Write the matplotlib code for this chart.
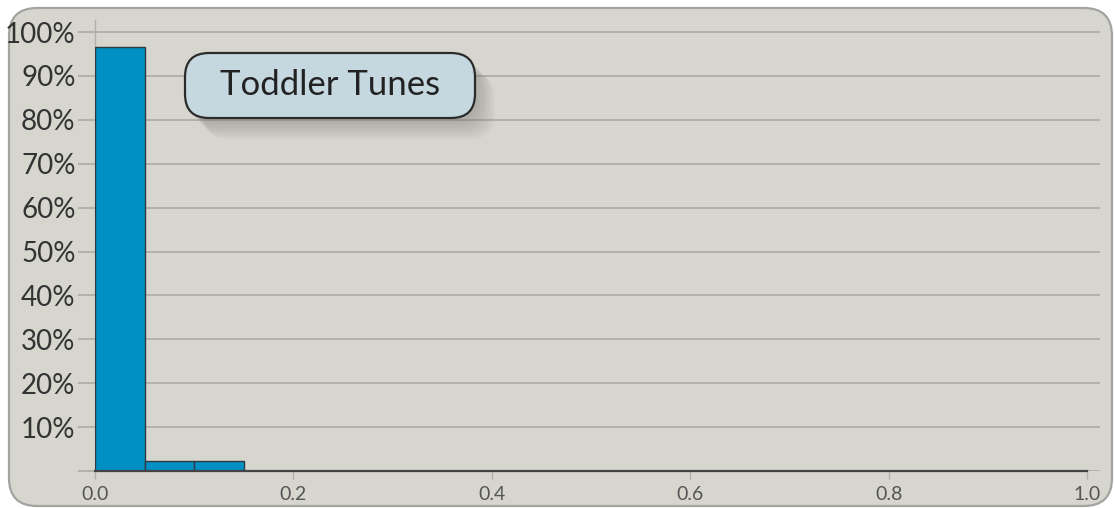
import matplotlib
matplotlib.use("Agg")
import matplotlib.pyplot as plt
from matplotlib.patches import FancyBboxPatch
from matplotlib import patheffects

# histogram: bin edges and share of tracks per bin (%)
bin_edges = [0.0, 0.05, 0.10, 0.15]
bin_share = [96.6, 2.3, 2.3]
y_ticks = [0, 10, 20, 30, 40, 50, 60, 70, 80, 90, 100]
y_labels = ["" if v == 0 else f"{v}%" for v in y_ticks]
x_ticks = [0.0, 0.2, 0.4, 0.6, 0.8, 1.0]
title = "Toddler Tunes"

BG = "#d6d5ce"
GRID = "#abaaa4"
BAR = "#0090c4"

plt.rcParams["font.family"] = ["Lato", "DejaVu Sans"]

fig = plt.figure(figsize=(11.15, 5.08), dpi=100)
fig.patch.set_facecolor("white")

# rounded panel behind everything
panel = FancyBboxPatch((0.09, 0.02), 11.03, 4.98,
                       boxstyle="round,pad=0,rounding_size=0.28",
                       transform=fig.dpi_scale_trans,
                       facecolor=BG, edgecolor="#a3a3a0", linewidth=1.6, zorder=-5)
fig.patches.append(panel)

ax = fig.add_axes([95 / 1115, 1 - 471 / 508, (1100 - 95) / 1115, (471 - 20) / 508])
ax.set_facecolor("none")
ax.set_zorder(1)

widths = [b - a for a, b in zip(bin_edges[:-1], bin_edges[1:])]
ax.bar(bin_edges[:-1], bin_share, width=widths, align="edge",
       color=BAR, edgecolor="#2e3a40", linewidth=1.0, zorder=3)

ax.set_xlim(0, 1.0 + 13 / 992)
ax.set_ylim(0, 451 / 4.39)

ax.set_yticks(y_ticks)
ax.set_yticklabels(y_labels)
ax.set_xticks(x_ticks)
ax.set_xticklabels([f"{v:.1f}" for v in x_ticks])

ax.grid(axis="y", color=GRID, linewidth=1.2, zorder=1)
ax.grid(axis="x", visible=False)

for s in ("top", "right"):
    ax.spines[s].set_visible(False)
ax.spines["left"].set_color("#b0afa9")
ax.spines["left"].set_linewidth(1.0)
ax.spines["bottom"].set_color("#444444")
ax.spines["bottom"].set_linewidth(1.6)
ax.spines["bottom"].set_bounds(0, 1.0)
ax.spines["bottom"].set_zorder(4)

ax.tick_params(axis="y", length=12, width=1.2, color=GRID, pad=2,
               labelsize=20, labelcolor="#333333")
ax.tick_params(axis="x", length=6, width=1.0, color="#b0afa9", pad=5,
               labelsize=14, labelcolor="#555555")

# title badge with a soft drop shadow
shadow = [patheffects.SimplePatchShadow(offset=(2 + 2 * i, -3 - 2 * i),
                                        shadow_rgbFace="#6a6a66", alpha=0.06)
          for i in range(7)]
badge = FancyBboxPatch((1.85, 3.90), 2.90, 0.65,
                       boxstyle="round,pad=0,rounding_size=0.24",
                       transform=fig.dpi_scale_trans,
                       facecolor="#c5d8e0", edgecolor="#2b2b2b", linewidth=1.6,
                       zorder=5)
badge.set_path_effects(shadow + [patheffects.Normal()])
fig.patches.append(badge)
fig.text(3.30 / 11.15, 4.23 / 5.08, title, ha="center", va="center",
         fontsize=25, color="#222222", zorder=6)

fig.savefig("out.png", dpi=100, facecolor=fig.get_facecolor())
